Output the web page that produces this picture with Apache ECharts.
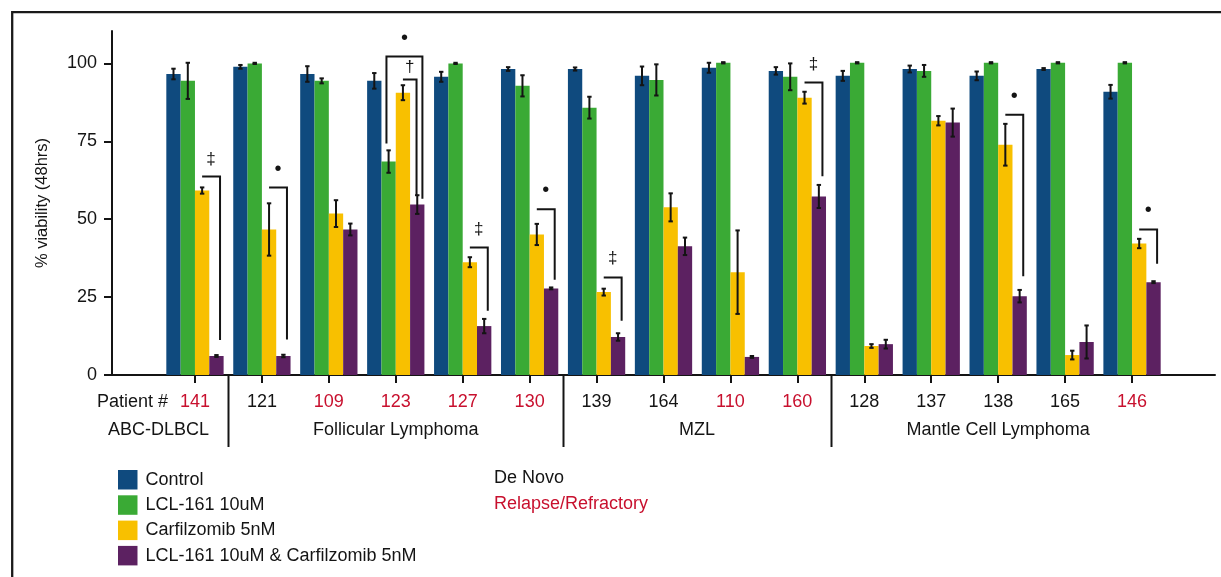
<!DOCTYPE html>
<html><head><meta charset="utf-8">
<script src="https://cdn.jsdelivr.net/npm/echarts@6/dist/echarts.min.js"></script>
<style>html,body{margin:0;padding:0;background:#fff}#c{width:1221px;height:577px}</style>
</head><body><div id="c"></div>
<script>
// ---------- data ----------
const patients = ['141','121','109','123','127','130','139','164','110','160','128','137','138','165','146'];
const relapsed = [1,0,1,1,1,1,0,0,1,1,0,0,0,0,1];
const groupNames = ['ABC-DLBCL','Follicular Lymphoma','MZL','Mantle Cell Lymphoma'];
const groupStart = [0,1,6,10];
const groupEnd = [0,5,9,14];
const seriesNames = ['Control','LCL-161 10uM','Carfilzomib 5nM','LCL-161 10uM & Carfilzomib 5nM'];
const control    = [96.6, 98.9, 96.6, 94.4, 95.7, 98.2, 98.2, 96.0, 98.6, 97.6, 96.0, 98.2, 96.0, 98.2, 90.9];
const controlErr = [1.7, 0.6, 2.5, 2.5, 1.6, 0.6, 0.5, 3.0, 1.6, 1.2, 1.6, 1.1, 1.4, 0.3, 2.2];
const lcl        = [94.4, 100.0, 94.4, 68.5, 100.0, 92.8, 85.8, 94.7, 100.2, 95.7, 100.2, 97.6, 100.2, 100.2, 100.2];
const lclErr     = [5.8, 0.2, 0.8, 3.6, 0.2, 3.4, 3.5, 5.0, 0.2, 4.3, 0.2, 1.9, 0.2, 0.2, 0.2];
const carf       = [59.2, 46.7, 51.8, 90.6, 36.2, 45.1, 26.6, 53.8, 33.0, 89.0, 9.3, 81.6, 73.9, 6.4, 42.2];
const carfErr    = [1.0, 8.4, 4.3, 2.4, 1.6, 3.4, 1.1, 4.5, 13.4, 1.9, 0.6, 1.5, 6.7, 1.4, 1.5];
const combo      = [6.1, 6.1, 46.7, 54.7, 15.7, 27.8, 12.2, 41.3, 5.8, 57.3, 9.9, 81.0, 25.3, 10.6, 29.8];
const comboErr   = [0.3, 0.4, 1.9, 3.0, 2.3, 0.3, 1.2, 2.8, 0.3, 3.7, 1.4, 4.5, 2.0, 5.3, 0.3];
// significance brackets (from series -> combination series)
const bracketCat      = [0, 1, 3, 3, 4, 5, 6, 9, 12, 14];
const bracketFrom     = [2, 2, 2, 1, 2, 2, 2, 2, 2, 2];
const bracketTop      = [63.7, 60.2, 94.8, 102.2, 40.9, 53.2, 31.3, 93.9, 83.5, 46.7];
const bracketLeftEnd  = [null, null, null, 74.3, null, null, null, null, null, null];
const bracketRightEnd = [11.2, 11.4, 57.6, 56.6, 20.6, 30.6, 17.4, 63.8, 31.7, 35.7];
const bracketMark     = ['‡', '•', '†', '•', '‡', '•', '‡', '‡', '•', '•'];
const bracketMarkY    = [69.1, 66.1, 98.7, 108.0, 46.9, 59.1, 37.3, 99.7, 89.5, 52.7];
const yTicks = [0, 25, 50, 75, 100];
const statusLabels = ['De Novo', 'Relapse/Refractory'];

// ---------- style ----------
const COLORS = ['#0f4a7e', '#3aaa35', '#f8c000', '#5c2161'];
const INK = '#141414';
const RED = '#c8102e';
const FONT = '"Liberation Sans", Arial, Helvetica, sans-serif';
const GAP = 0.144;
const YMAX = 110.4;
const values = [control, lcl, carf, combo];
const errs = [controlErr, lclErr, carfErr, comboErr];

function barGeom(api, cat, s) {
  const band = api.size([1, 0])[0];
  const bw = band * (1 - GAP) / 4;
  const cx = api.coord([cat, 0])[0] + (s - 1.5) * bw;
  return { cx, bw };
}

const chart = echarts.init(document.getElementById('c'), null, { renderer: 'canvas' });

const series = [];
seriesNames.forEach((n, s) => {
  series.push({
    name: n, type: 'bar', xAxisIndex: 1, yAxisIndex: 1,
    data: values[s], barGap: '0%', barCategoryGap: (GAP * 100) + '%',
    itemStyle: { color: COLORS[s] }, z: 2, silent: true
  });
});
seriesNames.forEach((n, s) => {
  series.push({
    name: 'err' + s, type: 'custom', xAxisIndex: 1, yAxisIndex: 1, z: 5, silent: true,
    encode: { x: 0, y: 1 },
    data: values[s].map((v, i) => [i, v, errs[s][i]]),
    renderItem: (params, api) => {
      const cat = api.value(0), v = api.value(1), e = api.value(2);
      const g = barGeom(api, cat, s);
      const y1 = api.coord([cat, v + e])[1], y2 = api.coord([cat, v - e])[1];
      const cw = Math.max(2.2, g.bw * 0.15);
      const st = { stroke: INK, lineWidth: 2 };
      return { type: 'group', children: [
        { type: 'line', shape: { x1: g.cx, y1: y1, x2: g.cx, y2: y2 }, style: st },
        { type: 'line', shape: { x1: g.cx - cw, y1: y1, x2: g.cx + cw, y2: y1 }, style: st },
        { type: 'line', shape: { x1: g.cx - cw, y1: y2, x2: g.cx + cw, y2: y2 }, style: st }
      ]};
    }
  });
});
series.push({
  name: 'brackets', type: 'custom', xAxisIndex: 1, yAxisIndex: 1, z: 6, silent: true,
  encode: { x: 0, y: 1 },
  data: bracketCat.map((c, i) => [c, bracketTop[i]]),
  renderItem: (params, api) => {
    const i = params.dataIndex;
    const cat = bracketCat[i];
    const nInCat = bracketCat.filter(c => c === cat).length;
    const gFrom = barGeom(api, cat, bracketFrom[i]);
    const gTo = barGeom(api, cat, 3);
    let off;
    if (nInCat === 1) off = 0.25 * gTo.bw;
    else off = bracketFrom[i] === 2 ? -0.05 * gTo.bw : 0.36 * gTo.bw;
    const xL = gFrom.cx - (bracketLeftEnd[i] != null ? 0.15 * gFrom.bw : 0);
    const xR = gTo.cx + off;
    const yT = api.coord([cat, bracketTop[i]])[1];
    const yR = api.coord([cat, bracketRightEnd[i]])[1];
    const st = { stroke: INK, lineWidth: 2, fill: null };
    const pts = [];
    if (bracketLeftEnd[i] != null) pts.push([xL, api.coord([cat, bracketLeftEnd[i]])[1]]);
    pts.push([xL, yT], [xR, yT], [xR, yR]);
    const my = api.coord([cat, bracketMarkY[i]])[1];
    const isDot = bracketMark[i] === '•';
    return { type: 'group', children: [
      { type: 'polyline', shape: { points: pts }, style: st },
      { type: 'text', style: { text: bracketMark[i], x: (xL + xR) / 2, y: my, align: 'center', verticalAlign: 'middle',
        fontSize: isDot ? 20 : 17, fontFamily: FONT, fill: INK } }
    ]};
  }
});

const option = {
  animation: false,
  textStyle: { fontFamily: FONT },
  grid: [
    { left: 112, right: 6, top: 31, bottom: 202, containLabel: false },
    { left: 161.5, right: 55.5, top: 31, bottom: 202, containLabel: false }
  ],
  xAxis: [
    { gridIndex: 0, type: 'value', min: 0, max: 1, axisLine: { show: true, lineStyle: { color: INK, width: 2 } },
      axisTick: { show: false }, axisLabel: { show: false }, splitLine: { show: false } },
    { gridIndex: 1, type: 'category', data: patients, axisLine: { show: false },
      axisTick: { show: true, alignWithLabel: true, length: 8, lineStyle: { color: INK, width: 2 } },
      axisLabel: { margin: 17, fontSize: 18, lineHeight: 20, fontFamily: FONT,
        color: (v, i) => relapsed[patients.indexOf(v)] ? RED : INK } , splitLine: { show: false } }
  ],
  yAxis: [
    { gridIndex: 0, type: 'value', min: 0, max: YMAX, interval: 25,
      name: '% viability (48hrs)', nameLocation: 'middle', nameGap: 61, nameRotate: 90,
      nameTextStyle: { fontFamily: FONT, fontSize: 16.5, color: INK },
      axisLine: { show: true, lineStyle: { color: INK, width: 2 } },
      axisTick: { show: true, length: 8, lineStyle: { color: INK, width: 2 }, customValues: yTicks },
      axisLabel: { margin: 15, fontSize: 18, color: INK, fontFamily: FONT, customValues: yTicks,
        formatter: v => (yTicks.indexOf(v) >= 0 ? String(v) : '') },
      splitLine: { show: false } },
    { gridIndex: 1, type: 'value', min: 0, max: YMAX, show: false, splitLine: { show: false } }
  ],
  legend: {
    data: seriesNames, orient: 'vertical', left: 118, top: 470, itemWidth: 19.5, itemHeight: 19.5, itemGap: 5.8,
    icon: 'rect', padding: 0, selectedMode: false,
    textStyle: { fontSize: 18, color: INK, fontFamily: FONT, padding: [0, 0, 0, 3] }
  },
  series
};
chart.setOption(option);

// derived annotations positioned via the category axis scale
const px = i => chart.convertToPixel({ xAxisIndex: 1 }, i);
const axisY = chart.convertToPixel({ yAxisIndex: 1 }, 0);
const gfx = [];
gfx.push({ type: 'rect', shape: { x: 12.2, y: 12.2, width: 1400, height: 800 }, style: { fill: 'none', stroke: '#1a1a1a', lineWidth: 2.3 }, z: -1, silent: true });
for (let g = 1; g < groupStart.length; g++) {
  const x = Math.round((px(groupStart[g] - 1) + px(groupStart[g])) / 2) + 0.5;
  gfx.push({ type: 'line', shape: { x1: x, y1: axisY, x2: x, y2: axisY + 72 }, style: { stroke: INK, lineWidth: 2 }, silent: true });
}
groupNames.forEach((n, g) => {
  let x, al;
  if (g === 0) { x = px(groupStart[0]) + 14; al = 'right'; }
  else { x = (px(groupStart[g]) + px(groupEnd[g])) / 2; al = 'center'; }
  gfx.push({ type: 'text', x: x, y: axisY + 55.5, silent: true,
    style: { text: n, fontSize: 18, fontFamily: FONT, fill: INK, align: al, textAlign: al, verticalAlign: 'middle', textVerticalAlign: 'middle' } });
});
gfx.push({ type: 'text', x: px(0) - 27, y: axisY + 27, silent: true,
  style: { text: 'Patient #', fontSize: 18, fontFamily: FONT, fill: INK, align: 'right', textAlign: 'right', verticalAlign: 'middle', textVerticalAlign: 'middle' } });
statusLabels.forEach((t, k) => {
  gfx.push({ type: 'text', x: 494, y: 478.5 + k * 25.8, silent: true,
    style: { text: t, fontSize: 18, fontFamily: FONT, fill: k ? RED : INK, align: 'left', textAlign: 'left', verticalAlign: 'middle', textVerticalAlign: 'middle' } });
});
chart.setOption({ graphic: gfx });
</script>
</body></html>
